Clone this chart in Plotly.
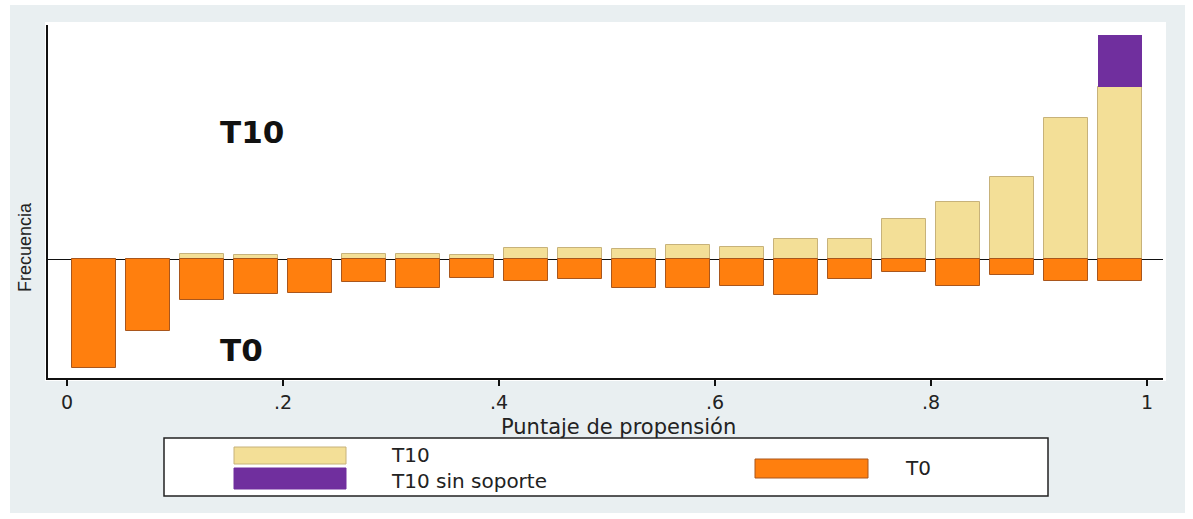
import plotly.graph_objects as go

# ---- data (heights in arbitrary frequency units) ----
bin_centers = [0.025, 0.075, 0.125, 0.175, 0.225, 0.275, 0.325, 0.375, 0.425, 0.475,
               0.525, 0.575, 0.625, 0.675, 0.725, 0.775, 0.825, 0.875, 0.925, 0.975]
t10_support = [0, 0, 5, 4, 0, 5, 5, 4, 11, 11, 10, 14, 12, 20, 20, 40, 57, 82, 141, 172]
t10_offsupport = [0, 0, 0, 0, 0, 0, 0, 0, 0, 0, 0, 0, 0, 0, 0, 0, 0, 0, 0, 52]
t0_counts = [109, 72, 41, 35, 34, 23, 29, 19, 22, 20, 29, 29, 27, 36, 20, 13, 27, 16, 22, 22]
tick_vals = [0, 0.2, 0.4, 0.6, 0.8, 1]
tick_text = ["0", ".2", ".4", ".6", ".8", "1"]
legend_names = ["T10", "T10 sin soporte", "T0"]

W, H = 1193, 519
ML, MR, MT, MB = 48, 30, 25, 141
PW, PH = W - ML - MR, H - MT - MB

def px(x):
    return (x - ML) / PW

def py(y):
    return (H - MB - y) / PH

BEIGE = "#F3DF97"
BEIGE_LINE = "#C7B27A"
PURPLE = "#702F9E"
ORANGE = "#FF7F0E"
ORANGE_LINE = "#A9561C"
BG = "#E9EFF1"
FONT = "DejaVu Sans"

fig = go.Figure()
fig.add_trace(go.Bar(x=bin_centers, y=t10_support, width=0.0415, name=legend_names[0],
                     marker=dict(color=BEIGE, line=dict(color=BEIGE_LINE, width=1))))
fig.add_trace(go.Bar(x=bin_centers, y=t10_offsupport, width=0.0415, name=legend_names[1],
                     marker=dict(color=PURPLE, line=dict(width=0))))
fig.add_trace(go.Bar(x=bin_centers, y=[-v for v in t0_counts], width=0.0415, name=legend_names[2],
                     marker=dict(color=ORANGE, line=dict(color=ORANGE_LINE, width=1))))

shapes = [
    # graph region background
    dict(type="rect", xref="paper", yref="paper", x0=px(10), x1=px(1185), y0=py(5), y1=py(513),
         fillcolor=BG, line=dict(width=0), layer="below"),
    # plot region
    dict(type="rect", xref="paper", yref="paper", x0=px(45), x1=px(1166), y0=py(22), y1=py(381),
         fillcolor="white", line=dict(width=0), layer="below"),
    # legend box
    dict(type="rect", xref="paper", yref="paper", x0=px(164), x1=px(1048), y0=py(438), y1=py(496),
         fillcolor="white", line=dict(color="#222222", width=1.5), layer="below"),
    dict(type="rect", xref="paper", yref="paper", x0=px(234), x1=px(346), y0=py(447), y1=py(464),
         fillcolor=BEIGE, line=dict(color=BEIGE_LINE, width=1)),
    dict(type="rect", xref="paper", yref="paper", x0=px(234), x1=px(346), y0=py(468), y1=py(489),
         fillcolor=PURPLE, line=dict(color=PURPLE, width=1)),
    dict(type="rect", xref="paper", yref="paper", x0=px(755), x1=px(868), y0=py(459), y1=py(478),
         fillcolor=ORANGE, line=dict(color=ORANGE_LINE, width=1)),
]

annotations = [
    dict(text="<b>T10</b>", x=0.14, y=127, xref="x", yref="y", xanchor="left", yanchor="middle",
         showarrow=False, font=dict(family=FONT, size=31, color="#111111")),
    dict(text="<b>T0</b>", x=0.14, y=-91, xref="x", yref="y", xanchor="left", yanchor="middle",
         showarrow=False, font=dict(family=FONT, size=31, color="#111111")),
    dict(text="Puntaje de propensión", x=px(618), y=py(427), xref="paper", yref="paper",
         xanchor="center", yanchor="middle", showarrow=False,
         font=dict(family=FONT, size=21, color="#222222")),
    dict(text="Frecuencia", x=px(25), y=py(247), xref="paper", yref="paper", textangle=-90,
         xanchor="center", yanchor="middle", showarrow=False,
         font=dict(family="Liberation Sans", size=18, color="#222222")),
    dict(text=legend_names[0] + "<br>" + legend_names[1], x=px(389), y=py(467.5),
         xref="paper", yref="paper", xanchor="left", yanchor="middle", align="left",
         showarrow=False, font=dict(family=FONT, size=20, color="#222222")),
    dict(text=legend_names[2], x=px(903), y=py(468), xref="paper", yref="paper", xanchor="left",
         yanchor="middle", showarrow=False, font=dict(family=FONT, size=20, color="#222222")),
]

fig.update_layout(
    width=W, height=H,
    margin=dict(l=ML, r=MR, t=MT, b=MB, pad=0),
    barmode="relative",
    bargap=0,
    showlegend=False,
    paper_bgcolor="white",
    plot_bgcolor="rgba(0,0,0,0)",
    shapes=shapes,
    annotations=annotations,
    xaxis=dict(range=[-0.0176, 1.0148], tickvals=tick_vals, ticktext=tick_text,
               ticks="outside", ticklen=6, tickwidth=1.5, tickcolor="#111111",
               showline=True, linecolor="#111111", linewidth=1.5,
               showgrid=False, zeroline=False,
               tickfont=dict(family=FONT, size=19, color="#222222")),
    yaxis=dict(range=[-119, 234], showticklabels=False, ticks="",
               showline=True, linecolor="#111111", linewidth=1.5,
               showgrid=False, zeroline=True, zerolinecolor="#111111", zerolinewidth=1.3),
)

fig.write_html("out.html", config={"displayModeBar": False},
               post_script="document.body.style.margin='0';")
